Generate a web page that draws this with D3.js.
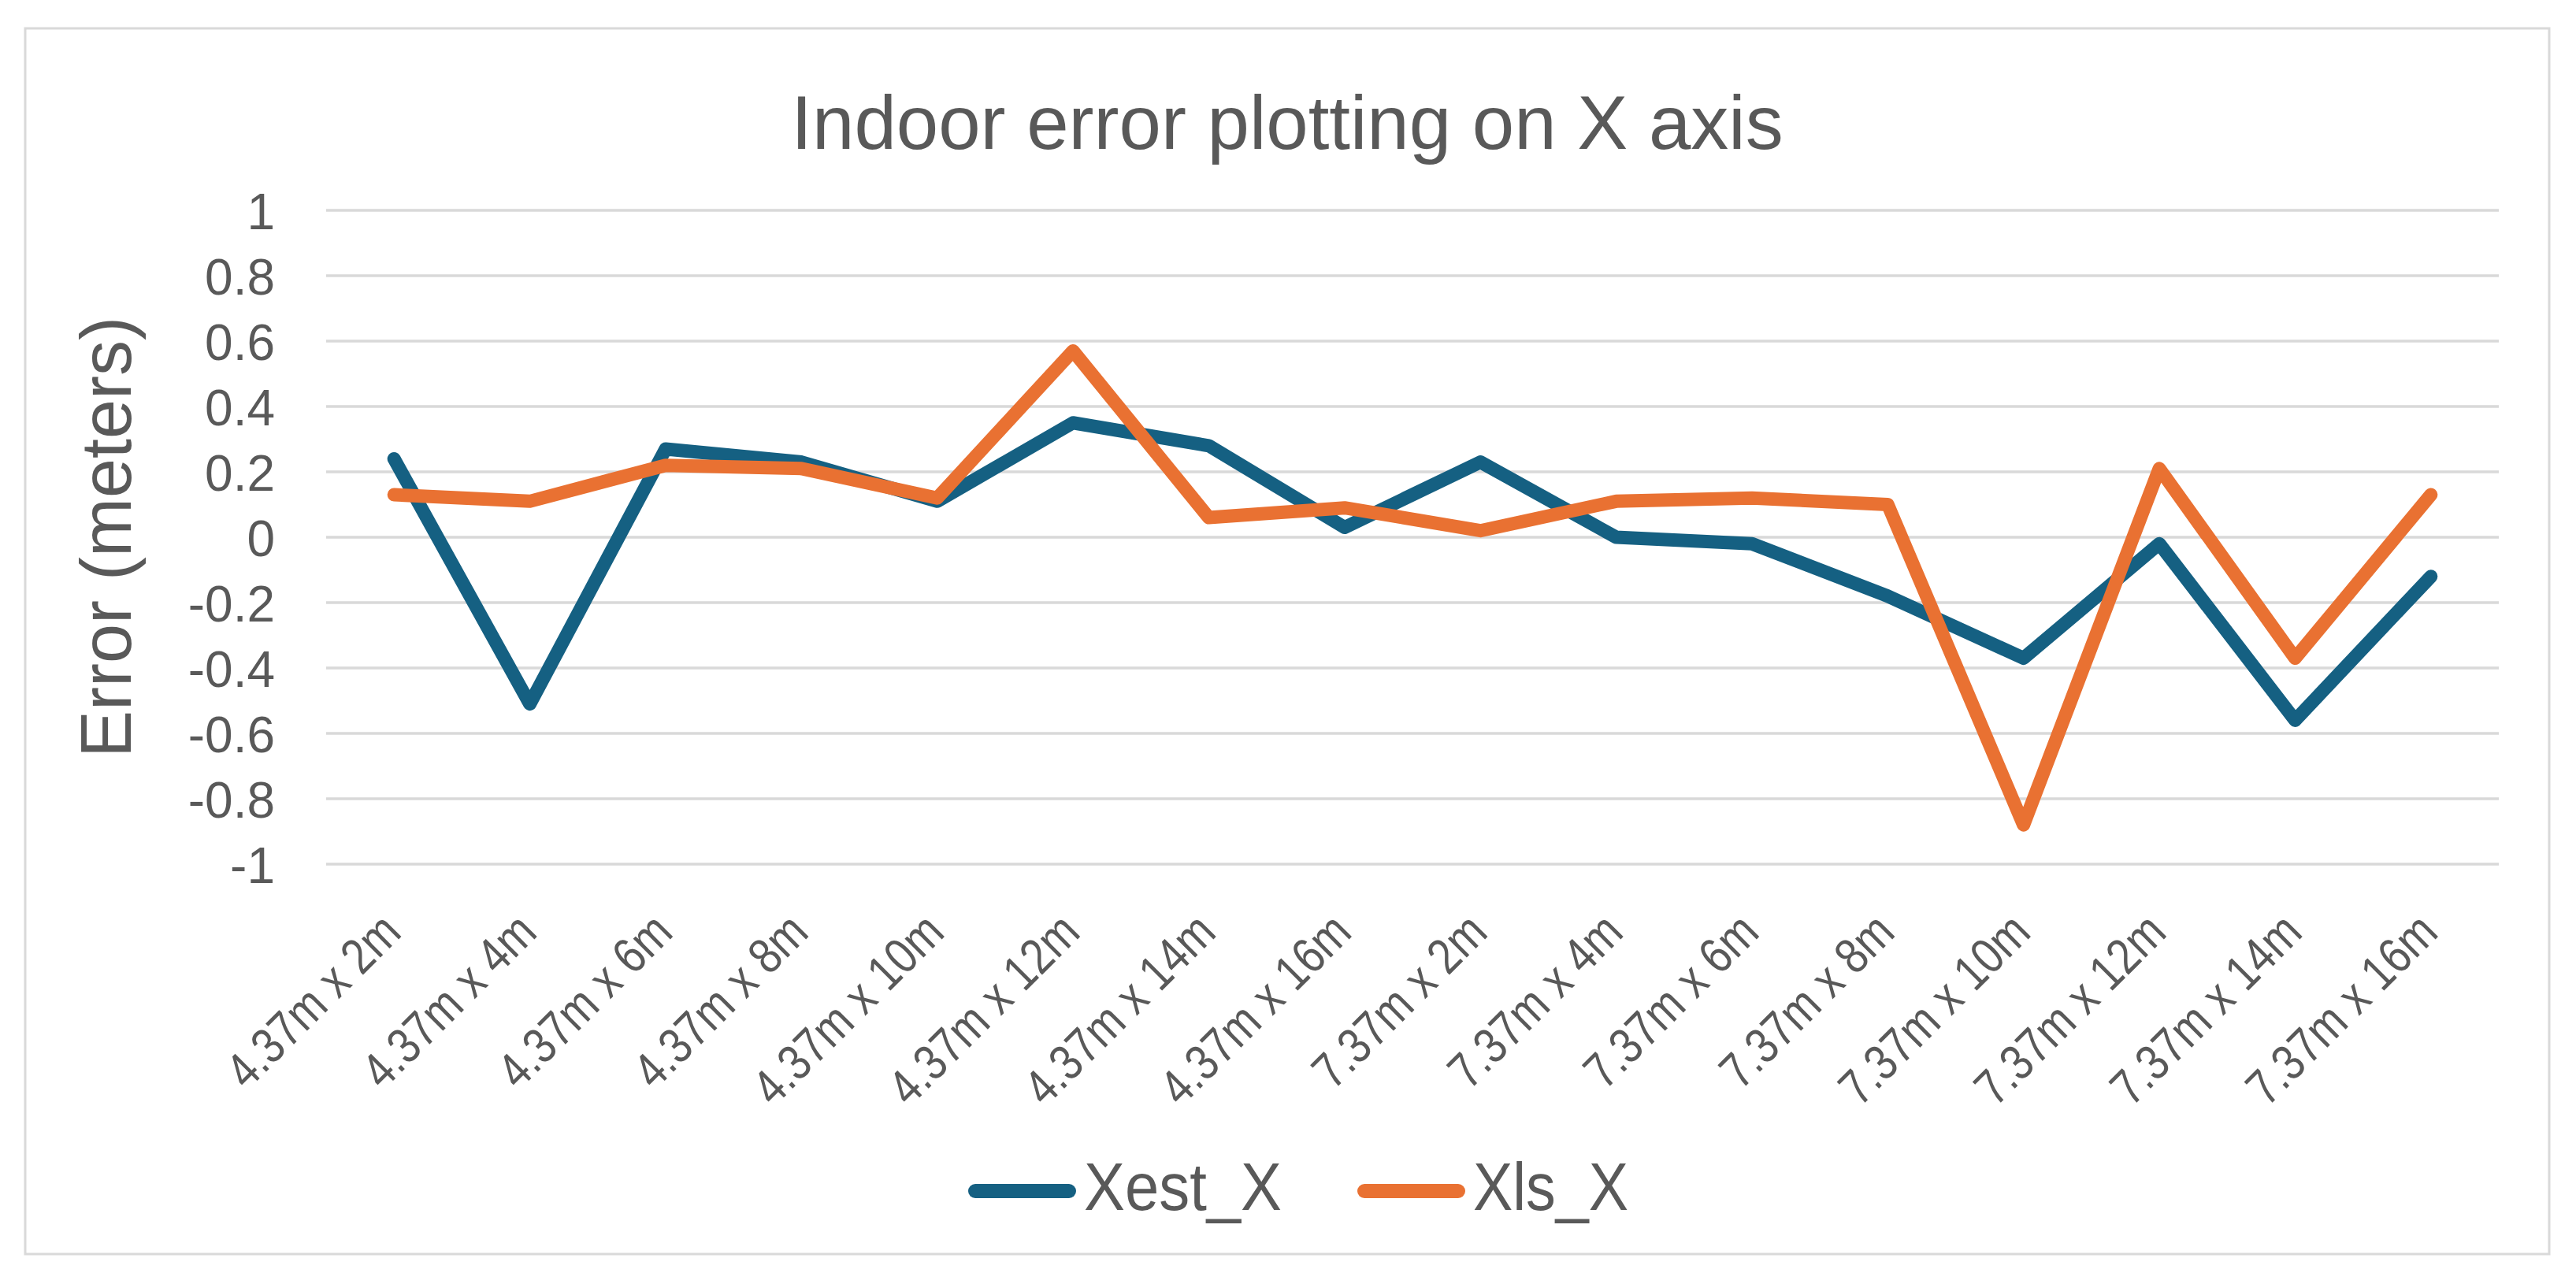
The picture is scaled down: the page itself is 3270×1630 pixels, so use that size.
<!DOCTYPE html>
<html>
<head>
<meta charset="utf-8">
<script src="https://cdn.jsdelivr.net/npm/d3@7"></script>
<style>
  body { margin: 0; background: #fff; }
  text { fill: #595959; font-family: "Liberation Sans Narrow", "Arial Narrow", "Liberation Sans", sans-serif; }
</style>
</head>
<body>
<svg id="chart" width="3270" height="1630"></svg>
<script>
const categories = ["4.37m x 2m", "4.37m x 4m", "4.37m x 6m", "4.37m x 8m", "4.37m x 10m", "4.37m x 12m",
  "4.37m x 14m", "4.37m x 16m", "7.37m x 2m", "7.37m x 4m", "7.37m x 6m", "7.37m x 8m",
  "7.37m x 10m", "7.37m x 12m", "7.37m x 14m", "7.37m x 16m"];
const xestX = [0.24, -0.51, 0.27, 0.23, 0.11, 0.35, 0.28, 0.03, 0.23, 0.00, -0.02, -0.18, -0.37, -0.02, -0.56, -0.12];
const xlsX = [0.13, 0.11, 0.22, 0.21, 0.12, 0.57, 0.06, 0.09, 0.02, 0.11, 0.12, 0.10, -0.88, 0.21, -0.37, 0.13];
const yTicks = [1, 0.8, 0.6, 0.4, 0.2, 0, -0.2, -0.4, -0.6, -0.8, -1];
const yTickLabels = ["1", "0.8", "0.6", "0.4", "0.2", "0", "-0.2", "-0.4", "-0.6", "-0.8", "-1"];
const seriesNames = ["Xest_X", "Xls_X"];
const seriesColors = ["#156082", "#E97132"];

const PLOT = { left: 414, right: 3172, top: 267, bottom: 1097 };

const svg = d3.select("#chart");

// outer frame
svg.append("rect")
  .attr("x", 32).attr("y", 36)
  .attr("width", 3204).attr("height", 1556)
  .attr("fill", "#fff")
  .attr("stroke", "#d9d9d9")
  .attr("stroke-width", 3);

const x = d3.scaleBand().domain(categories).range([PLOT.left, PLOT.right]).padding(0);
const y = d3.scaleLinear().domain([-1, 1]).range([PLOT.bottom, PLOT.top]);

// gridlines
svg.append("g")
  .selectAll("line")
  .data(yTicks)
  .enter().append("line")
  .attr("x1", PLOT.left).attr("x2", PLOT.right)
  .attr("y1", d => y(d)).attr("y2", d => y(d))
  .attr("stroke", "#d9d9d9")
  .attr("stroke-width", 3.5);

// y axis labels (hyphen minus, like the original)
const yAxis = svg.append("g")
  .attr("transform", "translate(" + (PLOT.left - 65) + ",0)")
  .call(d3.axisLeft(y).tickValues(yTicks).tickSize(0).tickPadding(0)
    .tickFormat((d, i) => yTickLabels[i]));
yAxis.select(".domain").remove();
yAxis.selectAll("text")
  .style("font-size", "64px")
  .attr("dy", "0.36em")
  .style("fill", "#595959");

// x axis labels, rotated and a bit condensed
const xAxis = svg.append("g")
  .attr("transform", "translate(0," + PLOT.bottom + ")")
  .call(d3.axisBottom(x).tickSize(0).tickPadding(0));
xAxis.select(".domain").remove();
xAxis.selectAll("text")
  .style("font-size", "64px")
  .attr("text-anchor", "end")
  .attr("dy", "0.7em")
  .attr("transform", "translate(-20,58) rotate(-45) scale(0.84,1)");

// title
svg.append("text")
  .attr("x", 1634).attr("y", 189)
  .attr("text-anchor", "middle")
  .style("font-size", "96px")
  .text("Indoor error plotting on X axis");

// y axis title
svg.append("text")
  .attr("transform", "translate(166,682) rotate(-90)")
  .attr("text-anchor", "middle")
  .style("font-family", "'Liberation Sans', sans-serif")
  .style("font-size", "90px")
  .text("Error (meters)");

// lines
const line = d3.line()
  .x((d, i) => x(categories[i]) + x.bandwidth() / 2)
  .y(d => y(d));

[xestX, xlsX].forEach((vals, k) => {
  svg.append("path")
    .datum(vals)
    .attr("d", line)
    .attr("fill", "none")
    .attr("stroke", seriesColors[k])
    .attr("stroke-width", 17)
    .attr("stroke-linejoin", "round")
    .attr("stroke-linecap", "round");
});

// legend
const legendX = [1229, 1723];
const legendTextW = [251, 197];
const legend = svg.append("g");
seriesNames.forEach((name, k) => {
  legend.append("line")
    .attr("x1", legendX[k] + 9).attr("x2", legendX[k] + 128)
    .attr("y1", 1512).attr("y2", 1512)
    .attr("stroke", seriesColors[k])
    .attr("stroke-width", 18)
    .attr("stroke-linecap", "round");
  legend.append("text")
    .attr("x", legendX[k] + 147).attr("y", 1536)
    .attr("textLength", legendTextW[k])
    .attr("lengthAdjust", "spacingAndGlyphs")
    .style("font-size", "86px")
    .text(name);
});
</script>
</body>
</html>
